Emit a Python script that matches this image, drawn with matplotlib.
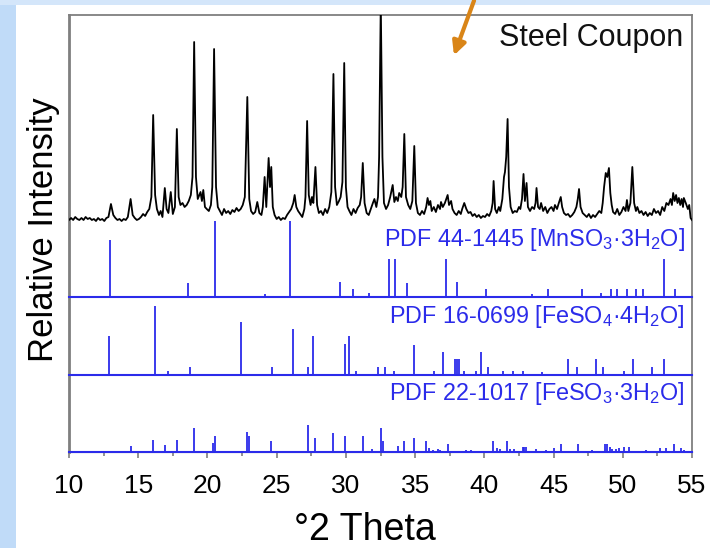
import matplotlib
matplotlib.use('Agg')
import matplotlib.pyplot as plt
from matplotlib.patches import Rectangle, FancyArrowPatch

# measured XRD pattern of the steel coupon: (2theta, counts above baseline)
scan_tt = [10.0, 10.15, 10.3, 10.45, 10.6, 10.75, 10.9, 11.05, 11.2, 11.35, 11.5, 11.65, 11.8, 11.95,
           12.1, 12.25, 12.4, 12.55, 12.7, 12.85, 13.03, 13.2, 13.35, 13.5, 13.65, 13.8, 13.95, 14.1,
           14.25, 14.45, 14.6, 14.75, 14.9, 15.05, 15.2, 15.35, 15.5, 15.65, 15.8, 15.95, 16.08, 16.22,
           16.35, 16.5, 16.62, 16.75, 16.92, 17.05, 17.18, 17.35, 17.5, 17.65, 17.79, 17.92, 18.05, 18.2,
           18.35, 18.5, 18.65, 18.8, 18.92, 19.04, 19.17, 19.3, 19.5, 19.6, 19.7, 19.82, 19.95, 20.1,
           20.25, 20.35, 20.48, 20.62, 20.75, 20.9, 21.05, 21.2, 21.35, 21.5, 21.65, 21.8, 21.95, 22.1,
           22.25, 22.4, 22.55, 22.7, 22.88, 23.02, 23.15, 23.3, 23.45, 23.6, 23.75, 23.9, 24.0, 24.13,
           24.25, 24.42, 24.52, 24.61, 24.72, 24.85, 25.0, 25.15, 25.3, 25.45, 25.6, 25.75, 25.9, 26.05,
           26.2, 26.3, 26.42, 26.55, 26.7, 26.85, 27.0, 27.08, 27.2, 27.32, 27.45, 27.55, 27.65, 27.8,
           27.92, 28.05, 28.2, 28.35, 28.5, 28.65, 28.8, 28.95, 29.1, 29.22, 29.35, 29.5, 29.62, 29.75,
           29.88, 30.0, 30.12, 30.25, 30.4, 30.55, 30.7, 30.85, 31.0, 31.1, 31.22, 31.35, 31.5, 31.65,
           31.8, 31.95, 32.06, 32.2, 32.32, 32.4, 32.52, 32.64, 32.75, 32.9, 33.05, 33.2, 33.38, 33.5,
           33.62, 33.75, 33.85, 34.0, 34.1, 34.22, 34.34, 34.5, 34.65, 34.8, 34.94, 35.06, 35.2, 35.35,
           35.5, 35.65, 35.8, 35.9, 36.0, 36.1, 36.2, 36.35, 36.5, 36.65, 36.8, 36.87, 37.0, 37.15,
           37.25, 37.35, 37.45, 37.6, 37.7, 37.85, 38.0, 38.15, 38.3, 38.4, 38.55, 38.7, 38.85, 39.0,
           39.15, 39.3, 39.45, 39.6, 39.75, 39.9, 40.05, 40.2, 40.35, 40.5, 40.6, 40.67, 40.78, 40.9,
           41.05, 41.15, 41.3, 41.42, 41.49, 41.58, 41.68, 41.78, 41.9, 42.05, 42.2, 42.35, 42.5, 42.6,
           42.72, 42.83, 42.93, 43.05, 43.15, 43.3, 43.45, 43.6, 43.7, 43.77, 43.88, 44.0, 44.1, 44.25,
           44.4, 44.55, 44.7, 44.85, 45.0, 45.1, 45.25, 45.38, 45.52, 45.62, 45.75, 45.9, 46.05, 46.2,
           46.35, 46.5, 46.65, 46.75, 46.84, 46.95, 47.1, 47.25, 47.4, 47.55, 47.7, 47.85, 48.0, 48.15,
           48.3, 48.45, 48.55, 48.65, 48.77, 48.88, 49.0, 49.1, 49.2, 49.3, 49.45, 49.6, 49.75, 49.9,
           50.05, 50.2, 50.3, 50.4, 50.55, 50.69, 50.82, 50.95, 51.05, 51.2, 51.35, 51.5, 51.65, 51.8,
           51.95, 52.1, 52.25, 52.4, 52.55, 52.7, 52.85, 53.0, 53.15, 53.3, 53.45, 53.55, 53.64, 53.75,
           53.85, 53.95, 54.05, 54.15, 54.25, 54.35, 54.41, 54.55, 54.7, 54.8, 54.9, 55.0]
scan_counts = [-3, -1, -3, 0, -2, -3, -1, -3, 0, -2, -1, -3, -2, -4,
               -1, -3, -2, -4, -1, 0, 13, 2, -1, -3, -2, -4, -2, -3,
               0, 18, 2, -1, -3, -2, 0, 3, 1, 5, 8, 20, 102, 22,
               8, 2, 6, 0, 29, 8, 4, 25, 3, 10, 88, 20, 12, 14,
               10, 12, 16, 22, 40, 175, 40, 18, 25, 16, 27, 10, 8, 6,
               12, 30, 168, 30, 10, 6, 2, 8, 4, 6, 3, 7, 5, 9,
               6, 8, 12, 20, 120, 18, 6, 3, 5, 15, 4, 2, 10, 40,
               10, 59, 30, 50, 10, 2, -2, 0, -3, -1, -2, 2, 5, 8,
               14, 22, 10, 6, 3, 0, 8, 20, 96, 22, 12, 20, 14, 50,
               12, 4, 6, 2, 8, 4, 10, 25, 143, 30, 12, 16, 20, 35,
               154, 30, 10, 6, 2, 8, 4, 9, 12, 20, 54, 14, 4, 2,
               8, 14, 18, 10, 20, 60, 215, 60, 14, 8, 12, 20, 32, 15,
               20, 16, 24, 20, 30, 83, 20, 12, 8, 16, 71, 14, 4, 2,
               6, 3, 10, 19, 12, 16, 6, 10, 5, 12, 8, 15, 10, 14,
               18, 22, 12, 16, 8, 4, 2, 6, 3, 8, 14, 8, 4, 5,
               1, 3, 0, 2, -1, 1, 0, 3, 1, 6, 14, 36, 8, 4,
               10, 6, 18, 40, 45, 60, 98, 30, 10, 4, 6, 5, 10, 8,
               18, 43, 16, 34, 10, 6, 10, 8, 14, 29, 10, 8, 14, 6,
               10, 4, 8, 10, 6, 12, 8, 14, 20, 10, 4, 2, 3, 0,
               2, 5, 10, 18, 28, 10, 4, 2, 0, 3, -1, 2, 0, 3,
               6, 4, 14, 30, 44, 40, 49, 24, 12, 5, 3, 8, 2, 5,
               10, 6, 17, 6, 14, 50, 14, 6, 10, 4, 6, 2, 5, 1,
               4, 2, 8, 4, 6, 2, 10, 6, 14, 12, 18, 12, 24, 16,
               22, 14, 19, 12, 18, 10, 19, 14, 8, 12, -1, -3]

# reference patterns (relative intensities, 100 = strongest line)
mn_pos = [12.96, 18.6, 20.53, 24.13, 25.93, 29.54, 30.5, 31.7, 33.1, 33.58, 34.39, 37.23, 38.02,
          40.11, 43.43, 44.63, 47.04, 48.45, 49.17, 49.6, 50.32, 50.93, 51.45, 53.0, 53.76]
mn_int = [75, 19, 100, 4, 100, 20, 10, 5, 50, 50, 19, 50, 20,
          10, 4, 10, 10, 5, 10, 10, 10, 10, 10, 50, 10]

fe4_pos = [12.91, 16.2, 17.16, 18.75, 22.4, 24.66, 26.2, 27.26, 27.66, 29.9, 30.21, 30.74, 32.3,
           32.85, 33.5, 34.9, 36.39, 36.99, 37.9, 38.02, 38.14, 38.55, 39.4, 39.75, 40.3, 41.36,
           42.08, 42.76, 44.15, 46.05, 46.67, 48.09, 48.57, 50.09, 50.74, 52.09, 53.0]
fe4_int = [57, 100, 6, 11, 77, 11, 67, 11, 56, 45, 56, 6, 11,
           11, 6, 44, 6, 34, 23, 23, 23, 6, 6, 34, 11, 6,
           6, 6, 4, 23, 11, 23, 11, 6, 23, 11, 23]

fe3_pos = [14.45, 16.08, 16.92, 17.81, 19.04, 20.41, 20.53, 22.88, 22.98, 24.56, 27.23, 27.74,
           29.06, 29.9, 31.2, 31.87, 32.54, 32.66, 33.79, 34.22, 34.94, 35.79, 36.03, 36.27, 36.63,
           36.82, 37.35, 38.67, 39.03, 40.59, 40.95, 41.15, 41.63, 41.87, 42.16, 42.76, 42.88, 43.0,
           43.72, 44.44, 45.04, 45.52, 46.8, 47.81, 48.69, 48.88, 49.08, 49.24, 49.48, 49.72, 50.09,
           50.45, 51.65, 52.68, 53.09, 53.69, 54.17, 54.41]
fe3_int = [21, 46, 25, 46, 90, 34, 61, 75, 59, 40, 100, 52,
           71, 61, 61, 12, 90, 40, 21, 40, 52, 40, 15, 8, 11,
           8, 31, 8, 8, 40, 15, 11, 42, 11, 11, 19, 19, 19,
           11, 8, 15, 31, 31, 8, 30, 30, 19, 11, 11, 15, 19,
           19, 8, 15, 15, 31, 15, 8]

labels = ['PDF 44-1445 [MnSO$_3$·3H$_2$O]',
          'PDF 16-0699 [FeSO$_4$·4H$_2$O]',
          'PDF 22-1017 [FeSO$_3$·3H$_2$O]']

blue = '#2b2bea'
grey = '#7f7f7f'
plt.rcParams['font.family'] = 'Liberation Sans'
plt.rcParams['mathtext.fontset'] = 'custom'
plt.rcParams['mathtext.rm'] = 'Liberation Sans'
plt.rcParams['mathtext.it'] = 'Liberation Sans'

fig = plt.figure(figsize=(7.1, 5.48), dpi=100)
fig.patch.set_facecolor('#d4e6fa')
fig.add_artist(Rectangle((16 / 710, 0), 1, 1 - 5 / 548, transform=fig.transFigure,
                         facecolor='white', edgecolor='none', zorder=0))
fig.add_artist(Rectangle((0, 0), 16 / 710, 1 - 5 / 548, transform=fig.transFigure,
                         facecolor='#c0dbf8', edgecolor='none', zorder=0))

ax = fig.add_axes([69 / 710, 1 - 452 / 548, 623 / 710, 437 / 548])
ax.set_xlim(10, 55)
ax.set_ylim(0, 437)

# vertical layout of the stacked panels
scan_base = 235
panels = [(mn_pos, mn_int, 155, 0.76, 206),
          (fe4_pos, fe4_int, 77, 0.69, 129),
          (fe3_pos, fe3_int, 0, 0.27, 52)]

ax.plot(scan_tt, [c + scan_base for c in scan_counts], color='black', lw=1.3, zorder=3)
ax.text(54.4, 406, 'Steel Coupon', ha='right', va='baseline', fontsize=22, color='#111111')

for (pos, inten, base, scale, ytxt), lab in zip(panels, labels):
    ax.vlines(pos, base, [base + i * scale for i in inten], color=blue, lw=1.3, zorder=2)
    ax.plot([10, 55], [base, base], color=blue, lw=1.5, zorder=4, clip_on=False)
    ax.text(54.48, ytxt, lab, ha='right', va='baseline', fontsize=16.8, color=blue)

for side in ['left', 'right', 'top', 'bottom']:
    ax.spines[side].set_color(grey)
ax.spines['left'].set_linewidth(2)
ax.spines['right'].set_linewidth(1.3)
ax.spines['top'].set_linewidth(1.3)

ax.set_xticks(range(10, 56, 5))
ax.set_xticks([x + 2.5 for x in range(10, 55, 5)], minor=True)
ax.tick_params(axis='x', which='both', direction='out', color=grey, width=1.2)
ax.tick_params(axis='x', which='major', length=4, pad=12, labelsize=19)
ax.tick_params(axis='x', which='minor', length=3)
ax.set_yticks([])

fig.text(365 / 710, 1 - 530 / 548, '°2 Theta', ha='center', va='center', fontsize=27)
fig.text(44 / 710, 1 - 230 / 548, 'Relative Intensity', ha='center', va='center',
         rotation=90, fontsize=25)

fig.add_artist(FancyArrowPatch((475 / 710, 1 + 2 / 548), (453 / 710, 1 - 58 / 548),
                               transform=fig.transFigure, arrowstyle='-|>',
                               mutation_scale=20, lw=3, color='#d98518'))

fig.savefig('out.png', dpi=100)
